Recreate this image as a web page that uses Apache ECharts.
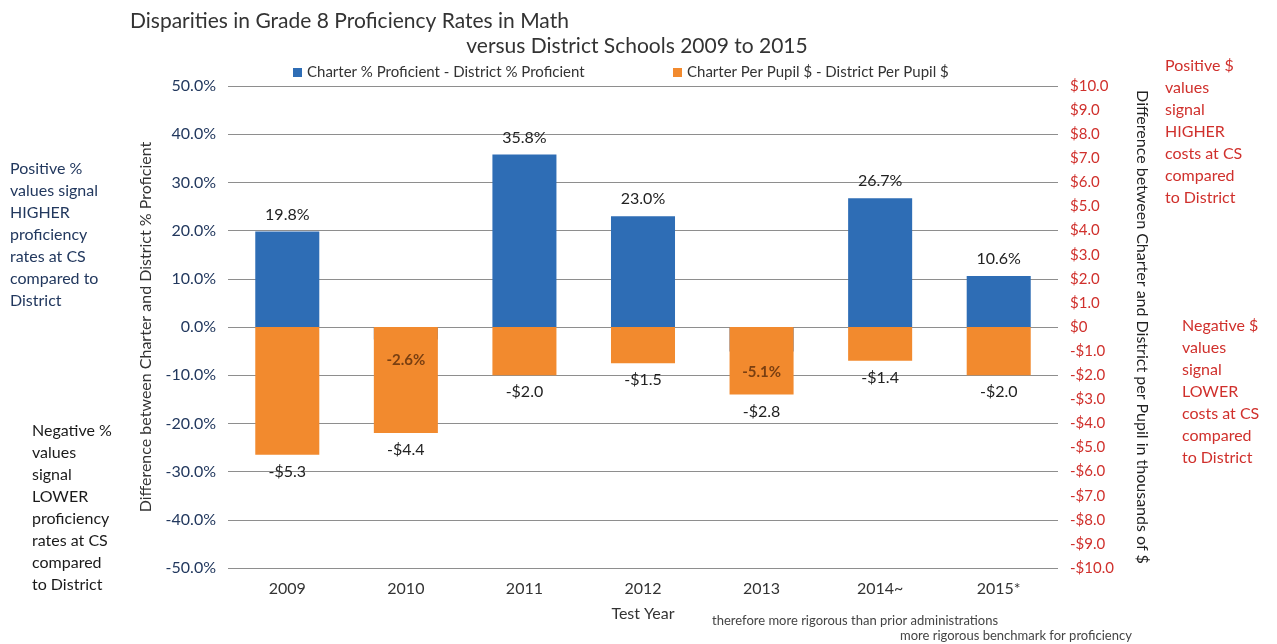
<!DOCTYPE html>
<html>
<head>
<meta charset="utf-8">
<script src="https://cdn.jsdelivr.net/npm/echarts@6/dist/echarts.min.js"></script>
<style>
html,body{margin:0;padding:0;background:#fff;}
#c{width:1277px;height:644px;}
</style>
</head>
<body>
<div id="c"></div>
<script>
// ---- data ----
var years = ['2009', '2010', '2011', '2012', '2013', '2014~', '2015*'];
var pctDiff = [19.8, -2.6, 35.8, 23.0, -5.1, 26.7, 10.6];          // Charter % Proficient - District % Proficient
var dollarDiff = [-5.3, -4.4, -2.0, -1.5, -2.8, -1.4, -2.0];       // Charter Per Pupil $ - District Per Pupil $ (thousands)
var seriesNames = ['Charter % Proficient - District % Proficient', 'Charter Per Pupil $ - District Per Pupil $'];
var titleLines = ['Disparities in Grade 8 Proficiency Rates in Math', 'versus District Schools 2009 to 2015'];
var leftAxisName = 'Difference between Charter and District % Proficient';
var rightAxisName = 'Difference between Charter and District per Pupil in thousands of $';
var xAxisName = 'Test Year';
var notePosPct = 'Positive %\nvalues signal\nHIGHER\nproficiency\nrates at CS\ncompared to\nDistrict';
var noteNegPct = 'Negative %\nvalues\nsignal\nLOWER\nproficiency\nrates at CS\ncompared\nto District';
var notePosUsd = 'Positive $\nvalues\nsignal\nHIGHER\ncosts at CS\ncompared\nto District';
var noteNegUsd = 'Negative $\nvalues\nsignal\nLOWER\ncosts at CS\ncompared\nto District';
var footnotes = ['therefore more rigorous than prior administrations', 'more rigorous benchmark for proficiency'];

var FONT = 'Lato, "Open Sans", "Noto Sans", sans-serif';
var BLUE = '#2E6DB5';
var ORANGE = '#F28A2E';
var RED = '#D0302C';
var NAVY = '#22385E';

function usd(v) {
  if (v === 0) return '$0';
  return (v < 0 ? '-$' : '$') + Math.abs(v).toFixed(1);
}
function pct(v) { return v.toFixed(1) + '%'; }

var chart = echarts.init(document.getElementById('c'), null, {renderer: 'canvas'});

var option = {
  backgroundColor: '#ffffff',
  textStyle: {fontFamily: FONT},
  title: [
    {text: titleLines[0], left: 125, top: 6,
     textStyle: {fontFamily: FONT, fontSize: 21, fontWeight: 'normal', color: '#333'}},
    {text: titleLines[1], left: 632, top: 31, textAlign: 'center',
     textStyle: {fontFamily: FONT, fontSize: 21, fontWeight: 'normal', color: '#333'}}
  ],
  legend: [
    {data: [seriesNames[0]], left: 288, top: 60, icon: 'rect', itemWidth: 9, itemHeight: 9, itemGap: 5,
     textStyle: {fontFamily: FONT, fontSize: 15, color: '#333'}},
    {data: [seriesNames[1]], left: 668, top: 60, icon: 'rect', itemWidth: 9, itemHeight: 9, itemGap: 5,
     textStyle: {fontFamily: FONT, fontSize: 15, color: '#333'}}
  ],
  grid: {left: 228, right: 219, top: 86, bottom: 76, containLabel: false},
  xAxis: {
    type: 'category',
    data: years,
    position: 'bottom',
    axisLine: {show: false},
    axisTick: {show: false},
    axisLabel: {fontFamily: FONT, fontSize: 16, color: '#333', margin: 13},
    name: xAxisName,
    nameLocation: 'middle',
    nameGap: 38,
    nameTextStyle: {fontFamily: FONT, fontSize: 16, color: '#333'}
  },
  yAxis: [
    {
      type: 'value', min: -50, max: 50, interval: 10,
      axisLine: {show: false}, axisTick: {show: false},
      axisLabel: {fontFamily: FONT, fontSize: 16, color: NAVY, margin: 12, formatter: pct},
      splitLine: {show: true, lineStyle: {color: '#8e8e8e', width: 1}},
      name: leftAxisName, nameLocation: 'middle', nameGap: 74, nameRotate: 90,
      nameTextStyle: {fontFamily: FONT, fontSize: 16, color: '#333'}
    },
    {
      type: 'value', min: -10, max: 10, interval: 1,
      axisLine: {show: false}, axisTick: {show: false},
      axisLabel: {fontFamily: FONT, fontSize: 15, color: RED, margin: 12, formatter: usd},
      splitLine: {show: false},
      name: rightAxisName, nameLocation: 'middle', nameGap: 76, nameRotate: -90,
      nameTextStyle: {fontFamily: FONT, fontSize: 16, color: '#222'}
    }
  ],
  series: [
    {
      name: seriesNames[0], type: 'bar', yAxisIndex: 0, barWidth: '54%', barGap: '-100%',
      itemStyle: {color: BLUE},
      z: 2,
      data: pctDiff.map(function (v) {
        return {value: v, label: {show: v >= 0}};
      }),
      label: {show: true, position: 'top', distance: 9, fontFamily: FONT, fontSize: 16, color: '#222',
              formatter: function (p) { return pct(p.value); }}
    },
    {
      name: seriesNames[1], type: 'bar', yAxisIndex: 1, barWidth: '54%', barGap: '-100%',
      itemStyle: {color: ORANGE},
      z: 3,
      data: dollarDiff.map(function (v) {
        return {value: v, label: {position: v < 0 ? 'bottom' : 'top'}};
      }),
      label: {show: true, fontFamily: FONT, fontSize: 16, color: '#222', distance: 9,
              formatter: function (p) { return usd(p.value); }}
    },
    {
      // labels of the negative % values, drawn above the orange bars that hide those blue bars
      name: 'pctNegLabels', type: 'scatter', yAxisIndex: 0, symbolSize: 0, silent: true, z: 10,
      data: pctDiff.map(function (v, i) { return v < 0 ? [years[i], v] : null; }),
      label: {show: true, position: 'bottom', distance: 13, fontFamily: FONT, fontSize: 15,
              fontWeight: 'bold', color: '#5a2c0a',
              formatter: function (p) { return pct(p.value[1]); }}
    }
  ],
  graphic: [
    {type: 'text', left: 10, top: 158, style: {text: notePosPct, font: '16px ' + FONT, fill: NAVY, lineHeight: 22}},
    {type: 'text', left: 32, top: 420, style: {text: noteNegPct, font: '16px ' + FONT, fill: '#1a1a1a', lineHeight: 22}},
    {type: 'text', left: 1165, top: 55, style: {text: notePosUsd, font: '16px ' + FONT, fill: RED, lineHeight: 22}},
    {type: 'text', left: 1182, top: 315, style: {text: noteNegUsd, font: '16px ' + FONT, fill: RED, lineHeight: 22}},
    {type: 'text', left: 712, top: 614, style: {text: footnotes[0], font: '13px ' + FONT, fill: '#444'}},
    {type: 'text', left: 900, top: 629, style: {text: footnotes[1], font: '13px ' + FONT, fill: '#444'}}
  ]
};

chart.setOption(option);
</script>
</body>
</html>
